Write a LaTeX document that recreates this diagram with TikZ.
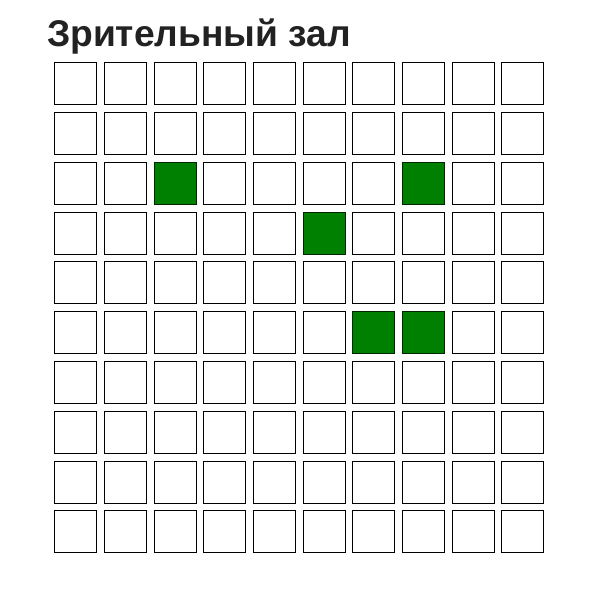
\documentclass[tikz,border=0pt]{standalone}
\usepackage{fontspec}
\setmainfont{Liberation Sans}
\usetikzlibrary{positioning}
\definecolor{seatgreen}{HTML}{008000}
\definecolor{titlegray}{HTML}{222222}

\begin{document}
\begin{tikzpicture}[x=1pt,y=-1pt]
  % styles
  \tikzstyle{seat} = [rectangle,draw=black,thick,fill=white,minimum size=42pt,inner sep=0pt];
  \tikzstyle{taken} = [seat,fill=seatgreen,draw=black!70!seatgreen];
  \tikzstyle{hall} = [font=\bfseries\fontsize{37.2}{40}\selectfont,text=titlegray,inner sep=0pt];

  \useasboundingbox (0,0) rectangle (609,598);

  % title
  \node[hall,anchor=base west] (title) at (46.8,46.7) {Зрительный зал};

  % seats
  \foreach \r in {0,...,9}
    \foreach \c in {0,...,9}
      \node[seat] (seat-\r-\c) at (75.5+49.7*\c,83.6+49.8*\r) {};

  % taken seats
  \node[taken] at (seat-2-2) {};
  \node[taken] at (seat-2-7) {};
  \node[taken] at (seat-3-5) {};
  \node[taken] at (seat-5-6) {};
  \node[taken] at (seat-5-7) {};
\end{tikzpicture}
\end{document}
